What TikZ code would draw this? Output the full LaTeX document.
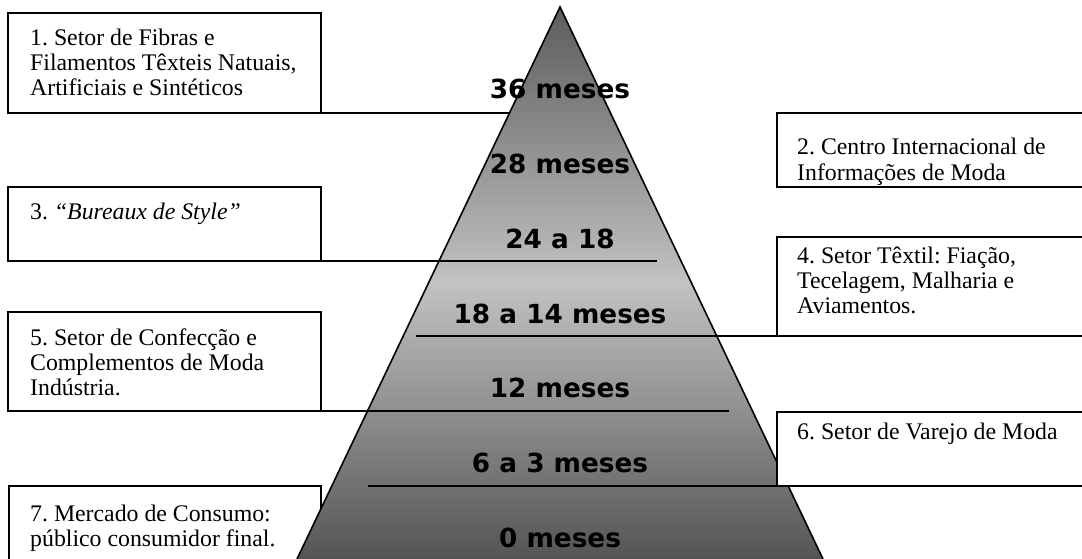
\documentclass[tikz,border=0pt]{standalone}
\usepackage{fontspec}
\setmainfont{Liberation Serif}
\newfontfamily\labelfont{DejaVu Sans}
\definecolor{gtop}{HTML}{5C5C5C}
\definecolor{gmid}{HTML}{C2C2C2}
\definecolor{gbot}{HTML}{545454}
\begin{document}
\frenchspacing
\begin{tikzpicture}[x=1pt,y=-1pt,
  box/.style={draw=black, line width=1.6pt, fill=white, rectangle, inner sep=0pt, outer sep=0pt, anchor=north west},
  lbl/.style={font=\fontsize{23.8}{25}\selectfont\frenchspacing, anchor=base west, inner sep=0pt},
  mes/.style={font=\labelfont\bfseries\fontsize{26.3}{28}\selectfont, anchor=base, inner sep=0pt},
  conn/.style={line width=1.6pt},
  edge/.style={line width=1.6pt, line join=miter}]
\clip (0,0) rectangle (1082,559);
\useasboundingbox (0,0) rectangle (1082,559);

% box 7 lies behind the pyramid
\node[box, minimum width=312pt, minimum height=90pt] (b7) at (9,486) {};
\node[lbl] (t7a) at (30,521) {7. Mercado de Consumo:};
\node[lbl] (t7b) at (30,546) {público consumidor final.};

% pyramid
\coordinate (apex) at (560,7);
\coordinate (bl) at (297,559);
\coordinate (br) at (823,559);
\shade[top color=gtop, bottom color=gbot, middle color=gmid] (apex) -- (bl) -- (br) -- cycle;
\draw[edge] (bl) -- (apex) -- (br);

% boxes
\node[box, minimum width=313pt, minimum height=100pt] (b1) at (8,13) {};
\node[box, minimum width=330pt, minimum height=74pt] (b2) at (777,113) {};
\node[box, minimum width=313pt, minimum height=74pt] (b3) at (8,187) {};
\node[box, minimum width=330pt, minimum height=99pt] (b4) at (777,237) {};
\node[box, minimum width=313pt, minimum height=99pt] (b5) at (8,312) {};
\node[box, minimum width=330pt, minimum height=74pt] (b6) at (777,412) {};

% connector lines
\coordinate (e1) at (510,113);
\coordinate (e3) at (657,261);
\coordinate (e4) at (416,336);
\coordinate (e5) at (729,411);
\coordinate (e6) at (368,486);
\draw[conn] (b1.south east) -- (e1);
\draw[conn] (b3.south east) -- (e3);
\draw[conn] (b4.south west) -- (e4);
\draw[conn] (b5.south east) -- (e5);
\draw[conn] (b6.south west) -- (e6);

% box texts
\node[lbl] (t1a) at (30,46) {1. Setor de Fibras e};
\node[lbl] (t1b) at (30,71) {Filamentos Têxteis Natuais,};
\node[lbl] (t1c) at (30,96) {Artificiais e Sintéticos};
\node[lbl] (t2a) at (797,155) {2. Centro Internacional de};
\node[lbl] (t2b) at (797,180) {Informações de Moda};
\node[lbl] (t3a) at (30,219) {3. \textit{“Bureaux de Style”}};
\node[lbl] (t4a) at (797,263) {4. Setor Têxtil: Fiação,};
\node[lbl] (t4b) at (797,288) {Tecelagem, Malharia e};
\node[lbl] (t4c) at (797,313) {Aviamentos.};
\node[lbl] (t5a) at (30,345) {5. Setor de Confecção e};
\node[lbl] (t5b) at (30,370) {Complementos de Moda};
\node[lbl] (t5c) at (30,395) {Indústria.};
\node[lbl] (t6a) at (797,439) {6. Setor de Varejo de Moda};

% pyramid labels
\node[mes] (m36) at (560,99) {36 meses};
\node[mes] (m28) at (560,174) {28 meses};
\node[mes] (m24) at (560,248) {24 a 18};
\node[mes] (m18) at (560,323) {18 a 14 meses};
\node[mes] (m12) at (560,397) {12 meses};
\node[mes] (m6) at (560,472) {6 a 3 meses};
\node[mes] (m0) at (560,547) {0 meses};
\end{tikzpicture}
\end{document}
